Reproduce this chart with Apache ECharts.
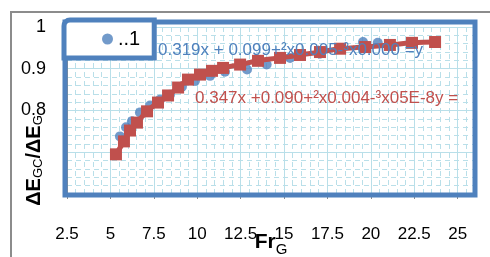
<!DOCTYPE html>
<html lang="en">
<head>
    <meta charset="utf-8">
    <title>ECharts</title>
    <script src="https://cdn.jsdelivr.net/npm/echarts@6/dist/echarts.min.js"></script>
</head>
<body>
    <style type="text/css">
        html, body { height: 100%; }
        body { margin: 0; background: #fff; }
    </style>
    <div id="main" style="width:490px;height:257px;"></div>
    <script type="text/javascript">
        // measured points (blue) and fitted points (red)
        var blueX = [5.55, 5.9, 6.24, 6.7, 7.28, 7.86, 8.43, 9.12, 9.87, 10.74, 11.6, 12.87, 14.0, 15.35, 17.07, 19.55, 20.4];
        var blueY = [0.738, 0.76, 0.774, 0.795, 0.812, 0.826, 0.838, 0.857, 0.871, 0.883, 0.893, 0.898, 0.91, 0.926, 0.936, 0.964, 0.962];
        var redX = [5.32, 5.78, 6.13, 6.53, 7.11, 7.74, 8.32, 8.9, 9.47, 10.16, 10.85, 11.49, 12.47, 13.5, 14.77, 15.92, 17.07, 18.23, 19.67, 21.1, 22.37, 23.7];
        var redY = [0.695, 0.726, 0.752, 0.771, 0.798, 0.819, 0.836, 0.855, 0.874, 0.886, 0.895, 0.902, 0.91, 0.919, 0.926, 0.933, 0.94, 0.948, 0.952, 0.957, 0.962, 0.964];
        var blueName = '..1';
        var blueEq = '0.319x + 0.099+\u00b2x0.005-\u00b3x0.000 =y';
        var redEq = '0.347x +0.090+\u00b2x0.004-\u00b3x05E-8y =';

        var BLUE = '#4f81bd';
        var RED = '#c0504d';
        var GRID = '#b9dfe9';
        var FONT = '"Liberation Sans", sans-serif';

        var myChart = echarts.init(document.getElementById('main'));

        var option = {
            animation: false,
            // 外框和绘图区边框
            graphic: [
                {
                    type: 'rect', z: -1,
                    shape: { x: 11, y: 12, width: 500, height: 260 },
                    style: { fill: 'none', stroke: '#8c8c8c', lineWidth: 2 }
                },
                {
                    type: 'rect', z: 1,
                    shape: { x: 65, y: 22, width: 410, height: 173 },
                    style: { fill: 'none', stroke: BLUE, lineWidth: 5 }
                },
                {
                    type: 'text', z: 5, left: 158, top: 42,
                    style: { text: blueEq, fill: BLUE, font: '17px ' + FONT }
                },
                {
                    type: 'text', z: 5, left: 195, top: 90,
                    style: { text: redEq, fill: RED, font: '17px ' + FONT }
                }
            ],
            legend: {
                data: [blueName],
                left: 64,
                top: 20,
                padding: [9, 14, 9, 38],
                itemWidth: 11,
                itemHeight: 11,
                itemGap: 4,
                backgroundColor: '#fff',
                borderColor: BLUE,
                borderWidth: 5,
                borderRadius: [6, 0, 0, 0],
                z: 10,
                textStyle: { color: '#000', fontSize: 20, fontFamily: FONT }
            },
            grid: {
                left: 67,
                right: 15,
                top: 27,
                bottom: 63,
                outerBoundsMode: 'none',
                containLabel: false
            },
            xAxis: {
                type: 'value',
                min: 2.5,
                max: 26,
                interval: 2.5,
                name: '{a|Fr}{b|G}',
                nameLocation: 'middle',
                nameGap: 34,
                nameMoveOverlap: false,
                nameTextStyle: {
                    rich: {
                        a: { fontSize: 21, fontWeight: 'bold', fontFamily: FONT, color: '#000' },
                        b: { fontSize: 15, fontFamily: FONT, color: '#000', padding: [14, 0, 0, 0] }
                    }
                },
                axisLine: { show: true, lineStyle: { color: '#8c8c8c', width: 2 } },
                axisTick: { show: true, inside: false, length: 5, lineStyle: { color: '#8c8c8c' } },
                axisLabel: { margin: 32, color: '#000', fontSize: 17, fontFamily: FONT, showMaxLabel: false },
                splitLine: { show: true, lineStyle: { color: GRID, width: 1 } },
                minorTick: { show: false, splitNumber: 5 },
                minorSplitLine: { show: true, lineStyle: { color: GRID, type: [5, 4] } }
            },
            yAxis: {
                type: 'value',
                min: 0.6,
                max: 1,
                interval: 0.1,
                name: '{a|\u0394E}{b|G}{c|C}{a|/\u0394E}{b|G}',
                nameLocation: 'middle',
                nameRotate: 90,
                nameGap: 22,
                nameMoveOverlap: false,
                nameTextStyle: {
                    padding: [0, 100, 0, 0],
                    rich: {
                        a: { fontSize: 20, fontWeight: 'bold', fontFamily: FONT, color: '#000' },
                        b: { fontSize: 13, fontFamily: FONT, color: '#000', padding: [8, 0, 0, 0] },
                        c: { fontSize: 13, fontFamily: FONT, color: '#000', padding: [8, 0, 0, 0] }
                    }
                },
                axisLine: { show: true, lineStyle: { color: '#8c8c8c', width: 2 } },
                axisTick: { show: true, length: 4, lineStyle: { color: '#8c8c8c' } },
                axisLabel: {
                    margin: 21,
                    color: '#000',
                    fontSize: 18,
                    fontFamily: FONT,
                    formatter: function (v) { return v < 0.75 ? '' : String(Math.round(v * 10) / 10); }
                },
                splitLine: { show: true, lineStyle: { color: GRID, width: 1 } },
                minorTick: { show: false, splitNumber: 5 },
                minorSplitLine: { show: true, lineStyle: { color: GRID, type: [5, 4] } }
            },
            series: [
                {
                    name: blueName,
                    type: 'scatter',
                    symbol: 'circle',
                    symbolSize: 10,
                    itemStyle: { color: BLUE },
                    data: blueX.map(function (x, i) { return [x, blueY[i]]; }),
                    z: 3
                },
                {
                    name: 'fit',
                    type: 'line',
                    symbol: 'rect',
                    symbolSize: 12,
                    showSymbol: true,
                    smooth: true,
                    lineStyle: { color: RED, width: 5 },
                    itemStyle: { color: RED },
                    data: redX.map(function (x, i) { return [x, redY[i]]; }),
                    z: 4
                }
            ]
        };

        option && myChart.setOption(option);
    </script>
</body>
</html>
